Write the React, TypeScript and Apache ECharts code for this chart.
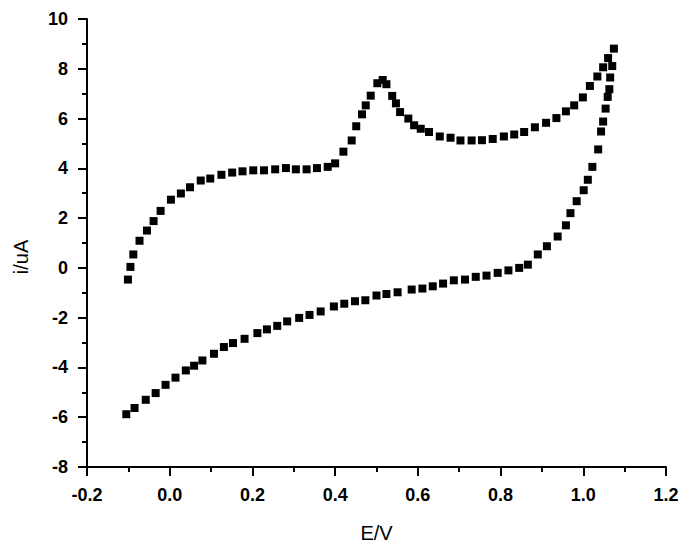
import React, { useEffect, useRef } from "react";
import * as echarts from "echarts";

// Forward (anodic) scan
const forwardE = [
  -0.101, -0.095, -0.088, -0.073, -0.055, -0.039, -0.022, 0.003, 0.027, 0.049,
  0.075, 0.098, 0.125, 0.151, 0.176, 0.202, 0.228, 0.255, 0.281, 0.305,
  0.331, 0.356, 0.382, 0.4, 0.42, 0.44, 0.451, 0.465, 0.474, 0.486,
  0.502, 0.515, 0.524, 0.538, 0.547, 0.557, 0.577, 0.591, 0.607, 0.627,
  0.653, 0.679, 0.703, 0.73, 0.755, 0.781, 0.808, 0.833, 0.857, 0.883,
  0.91, 0.935, 0.958, 0.978, 0.999, 1.016, 1.034, 1.048, 1.06, 1.074,
];
const forwardI = [
  -0.47, 0.04, 0.54, 1.09, 1.5, 1.88, 2.29, 2.74, 2.99, 3.24,
  3.51, 3.59, 3.74, 3.83, 3.88, 3.92, 3.92, 3.96, 4.01, 3.96,
  3.96, 4.01, 4.06, 4.2, 4.67, 5.12, 5.69, 6.17, 6.53, 6.92,
  7.42, 7.55, 7.38, 6.91, 6.61, 6.26, 6.0, 5.73, 5.59, 5.46,
  5.28, 5.23, 5.12, 5.12, 5.13, 5.18, 5.28, 5.36, 5.46, 5.65,
  5.83, 6.02, 6.29, 6.53, 6.85, 7.31, 7.69, 8.06, 8.43, 8.81,
];

// Reverse (cathodic) scan
const reverseE = [
  1.07, 1.065, 1.063, 1.059, 1.054, 1.048, 1.043, 1.036, 1.022, 1.011,
  1.001, 0.984, 0.969, 0.958, 0.938, 0.912, 0.89, 0.866, 0.845, 0.819,
  0.793, 0.766, 0.74, 0.714, 0.687, 0.661, 0.636, 0.611, 0.585, 0.551,
  0.524, 0.5, 0.473, 0.448, 0.422, 0.397, 0.365, 0.338, 0.313, 0.284,
  0.26, 0.235, 0.212, 0.181, 0.153, 0.131, 0.107, 0.079, 0.059, 0.039,
  0.014, -0.01, -0.034, -0.058, -0.085, -0.105,
];
const reverseI = [
  8.11, 7.65, 7.18, 6.87, 6.4, 5.88, 5.48, 4.76, 4.06, 3.54,
  3.12, 2.68, 2.2, 1.71, 1.26, 0.87, 0.54, 0.13, 0.0, -0.1,
  -0.2, -0.31, -0.36, -0.47, -0.5, -0.63, -0.74, -0.83, -0.87, -0.98,
  -1.05, -1.11, -1.3, -1.34, -1.44, -1.55, -1.75, -1.89, -2.01, -2.15,
  -2.33, -2.47, -2.62, -2.85, -3.02, -3.18, -3.45, -3.72, -3.93, -4.12,
  -4.41, -4.7, -5.03, -5.3, -5.63, -5.88,
];

const xTitle = "E/V";
const yTitle = "i/uA";

export default function App() {
  const ref = useRef<HTMLDivElement>(null);
  useEffect(() => {
    document.body.style.margin = "0";
    const chart = echarts.init(ref.current!, null, { renderer: "svg" });
    const font = "'Liberation Sans', Arial, sans-serif";
    const axisCommon = {
      axisLine: { show: true, onZero: false, lineStyle: { color: "#000", width: 2 } },
      axisTick: { show: true, inside: false, length: 9, lineStyle: { color: "#000", width: 2 } },
      minorTick: { show: true, splitNumber: 2, length: 5, lineStyle: { color: "#000", width: 2 } },
      splitLine: { show: false },
      minorSplitLine: { show: false },
    };
    const data = [
      ...forwardE.map((e, k) => [e, forwardI[k]]),
      ...reverseE.map((e, k) => [e, reverseI[k]]),
    ];
    chart.setOption({
      animation: false,
      backgroundColor: "#fff",
      grid: { left: 87, right: 23, top: 19, bottom: 76, containLabel: false, outerBoundsMode: "none" },
      xAxis: {
        type: "value",
        min: -0.2,
        max: 1.2,
        interval: 0.2,
        ...axisCommon,
        axisLabel: {
          margin: 19,
          color: "#000",
          fontFamily: font,
          fontWeight: "bold",
          fontSize: 18,
          formatter: (v: number) => v.toFixed(1),
        },
        name: xTitle,
        nameLocation: "middle",
        nameGap: 56,
        nameTextStyle: { color: "#000", fontFamily: font, fontSize: 20 },
      },
      yAxis: {
        type: "value",
        min: -8,
        max: 10,
        interval: 2,
        ...axisCommon,
        axisLabel: {
          margin: 19,
          color: "#000",
          fontFamily: font,
          fontWeight: "bold",
          fontSize: 18,
        },
      },
      graphic: [
        {
          type: "text",
          x: 21,
          y: 257,
          rotation: Math.PI / 2,
          style: {
            text: yTitle,
            fill: "#000",
            font: `20px ${font}`,
            align: "center",
            verticalAlign: "middle",
          },
        },
      ],
      series: [
        {
          type: "scatter",
          symbol: "rect",
          symbolSize: 8,
          itemStyle: { color: "#000", opacity: 1 },
          data,
        },
      ],
    });
    return () => chart.dispose();
  }, []);
  return <div ref={ref} style={{ width: 689, height: 543 }} />;
}
